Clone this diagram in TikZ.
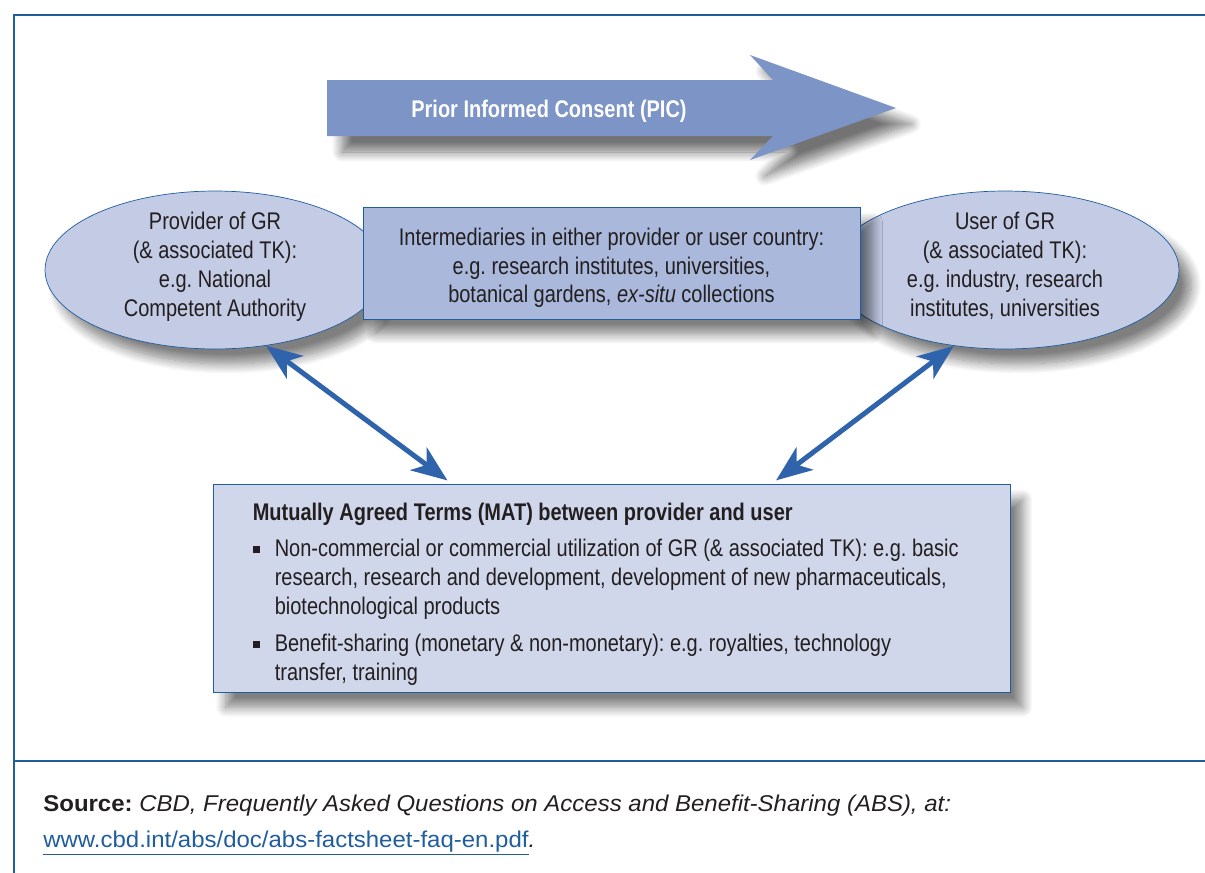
\documentclass[tikz,border=0pt]{standalone}
\usepackage{fontspec}
\setmainfont{Liberation Sans}[FakeStretch=0.83]
\newfontfamily\srcfont{Liberation Sans}[FakeStretch=1.05]
\usetikzlibrary{positioning,shapes.geometric,arrows.meta,calc,shadows.blur}
\frenchspacing

\definecolor{framecol}{RGB}{31,93,158}
\definecolor{arrowfill}{RGB}{124,148,198}
\definecolor{partyfill}{RGB}{195,203,229}
\definecolor{midfill}{RGB}{169,184,219}
\definecolor{matfill}{RGB}{208,215,235}
\definecolor{linkcol}{RGB}{47,100,173}
\definecolor{inkcol}{RGB}{35,31,32}

\newcommand{\matbullet}{\makebox[0.44cm][l]{\rule[0.07cm]{0.14cm}{0.14cm}}}
\newcommand{\matindent}{\hspace*{0.44cm}}

\begin{document}
\begin{tikzpicture}[
    x=0.02cm, y=-0.02cm,
    font=\fontsize{13.7}{16.5}\selectfont,
    frameline/.style={draw=framecol, line width=1.1pt},
    softshadow/.style={blur shadow={shadow xshift=0.25cm, shadow yshift=-0.3cm, shadow blur radius=0.2cm, shadow blur steps=12, shadow opacity=50}},
    party/.style={ellipse, draw=framecol, thin, fill=partyfill, inner sep=-0.06cm, minimum height=3.16cm, align=center, text=inkcol, softshadow},
    midbox/.style={rectangle, draw=framecol, thin, fill=midfill, minimum width=9.94cm, minimum height=2.24cm, align=center, text=inkcol, softshadow},
    matbox/.style={rectangle, draw=framecol, thin, fill=matfill, minimum width=15.94cm, minimum height=4.16cm, align=left, text=inkcol, softshadow},
    link/.style={{Stealth[length=0.72cm, width=0.56cm, inset=0.2cm]}-{Stealth[length=0.72cm, width=0.56cm, inset=0.2cm]}, line width=0.1cm, draw=linkcol, shorten >=0.12cm},
    srctext/.style={font=\srcfont\fontsize{13}{15}\selectfont, text=inkcol, inner sep=0pt}
  ]
    \useasboundingbox (0,0) rectangle (1205,873);

    % frame
    \draw[frameline] (1205,15) -- (14,15) -- (14,873);
    \draw[frameline] (14,761) -- (1205,761);

    % PIC arrow
    \fill[arrowfill, blur shadow={shadow xshift=0.3cm, shadow yshift=-0.32cm, shadow blur radius=0.2cm, shadow blur steps=12, shadow opacity=55}]
      (327,80) -- (773,80) -- (750,55) -- (896,108) -- (750,160) -- (773,136) -- (327,136) -- cycle;
    \node[text=white, font=\bfseries\fontsize{13.7}{16.5}\selectfont] (pic) at (549,111) {Prior Informed Consent (PIC)};

    % parties
    \node[party, minimum width=6.8cm] (provider) at (215,270) {
      Provider of GR\\
      (\& associated TK):\\
      e.g. National\\
      Competent Authority\rule[-0.24cm]{0pt}{0pt}
    };
    \node[party, minimum width=6.96cm] (user) at (1005,270) {
      User of GR\\
      (\& associated TK):\\
      e.g. industry, research\\
      institutes, universities\rule[-0.24cm]{0pt}{0pt}
    };

    \node[midbox] (inter) at (611.5,263) {
      \rule{0pt}{0.54cm}Intermediaries in either provider or user country:\\
      e.g. research institutes, universities,\\
      botanical gardens, \textit{ex-situ} collections
    };

    % terms
    \node[matbox, anchor=north west] (mat) at (213,484) {
      \rule{0pt}{0.6cm}\textbf{Mutually Agreed Terms (MAT) between provider and user}\\[0.14cm]
      \matbullet Non-commercial or commercial utilization of GR (\& associated TK): e.g. basic\rule{0.24cm}{0pt}\\
      \matindent research, research and development, development of new pharmaceuticals,\\
      \matindent biotechnological products\\[0.16cm]
      \matbullet Benefit-sharing (monetary \& non-monetary): e.g. royalties, technology\\
      \matindent transfer, training
    };

    \draw[link] (provider.-56) -- ($(mat.north west)!0.3!(mat.north east)$);
    \draw[link] (user.-124) -- ($(mat.north west)!0.7!(mat.north east)$);

    % source
    \node[srctext, anchor=west] (src) at (43,806) {\textbf{Source:} \textit{CBD, Frequently Asked Questions on Access and Benefit-Sharing (ABS), at:}};
    \node[srctext, anchor=west] (url) at (43,843) {{\color{framecol}\underline{www.cbd.int/abs/doc/abs-factsheet-faq-en.pdf}}\textit{.}};
  \end{tikzpicture}
\end{document}
